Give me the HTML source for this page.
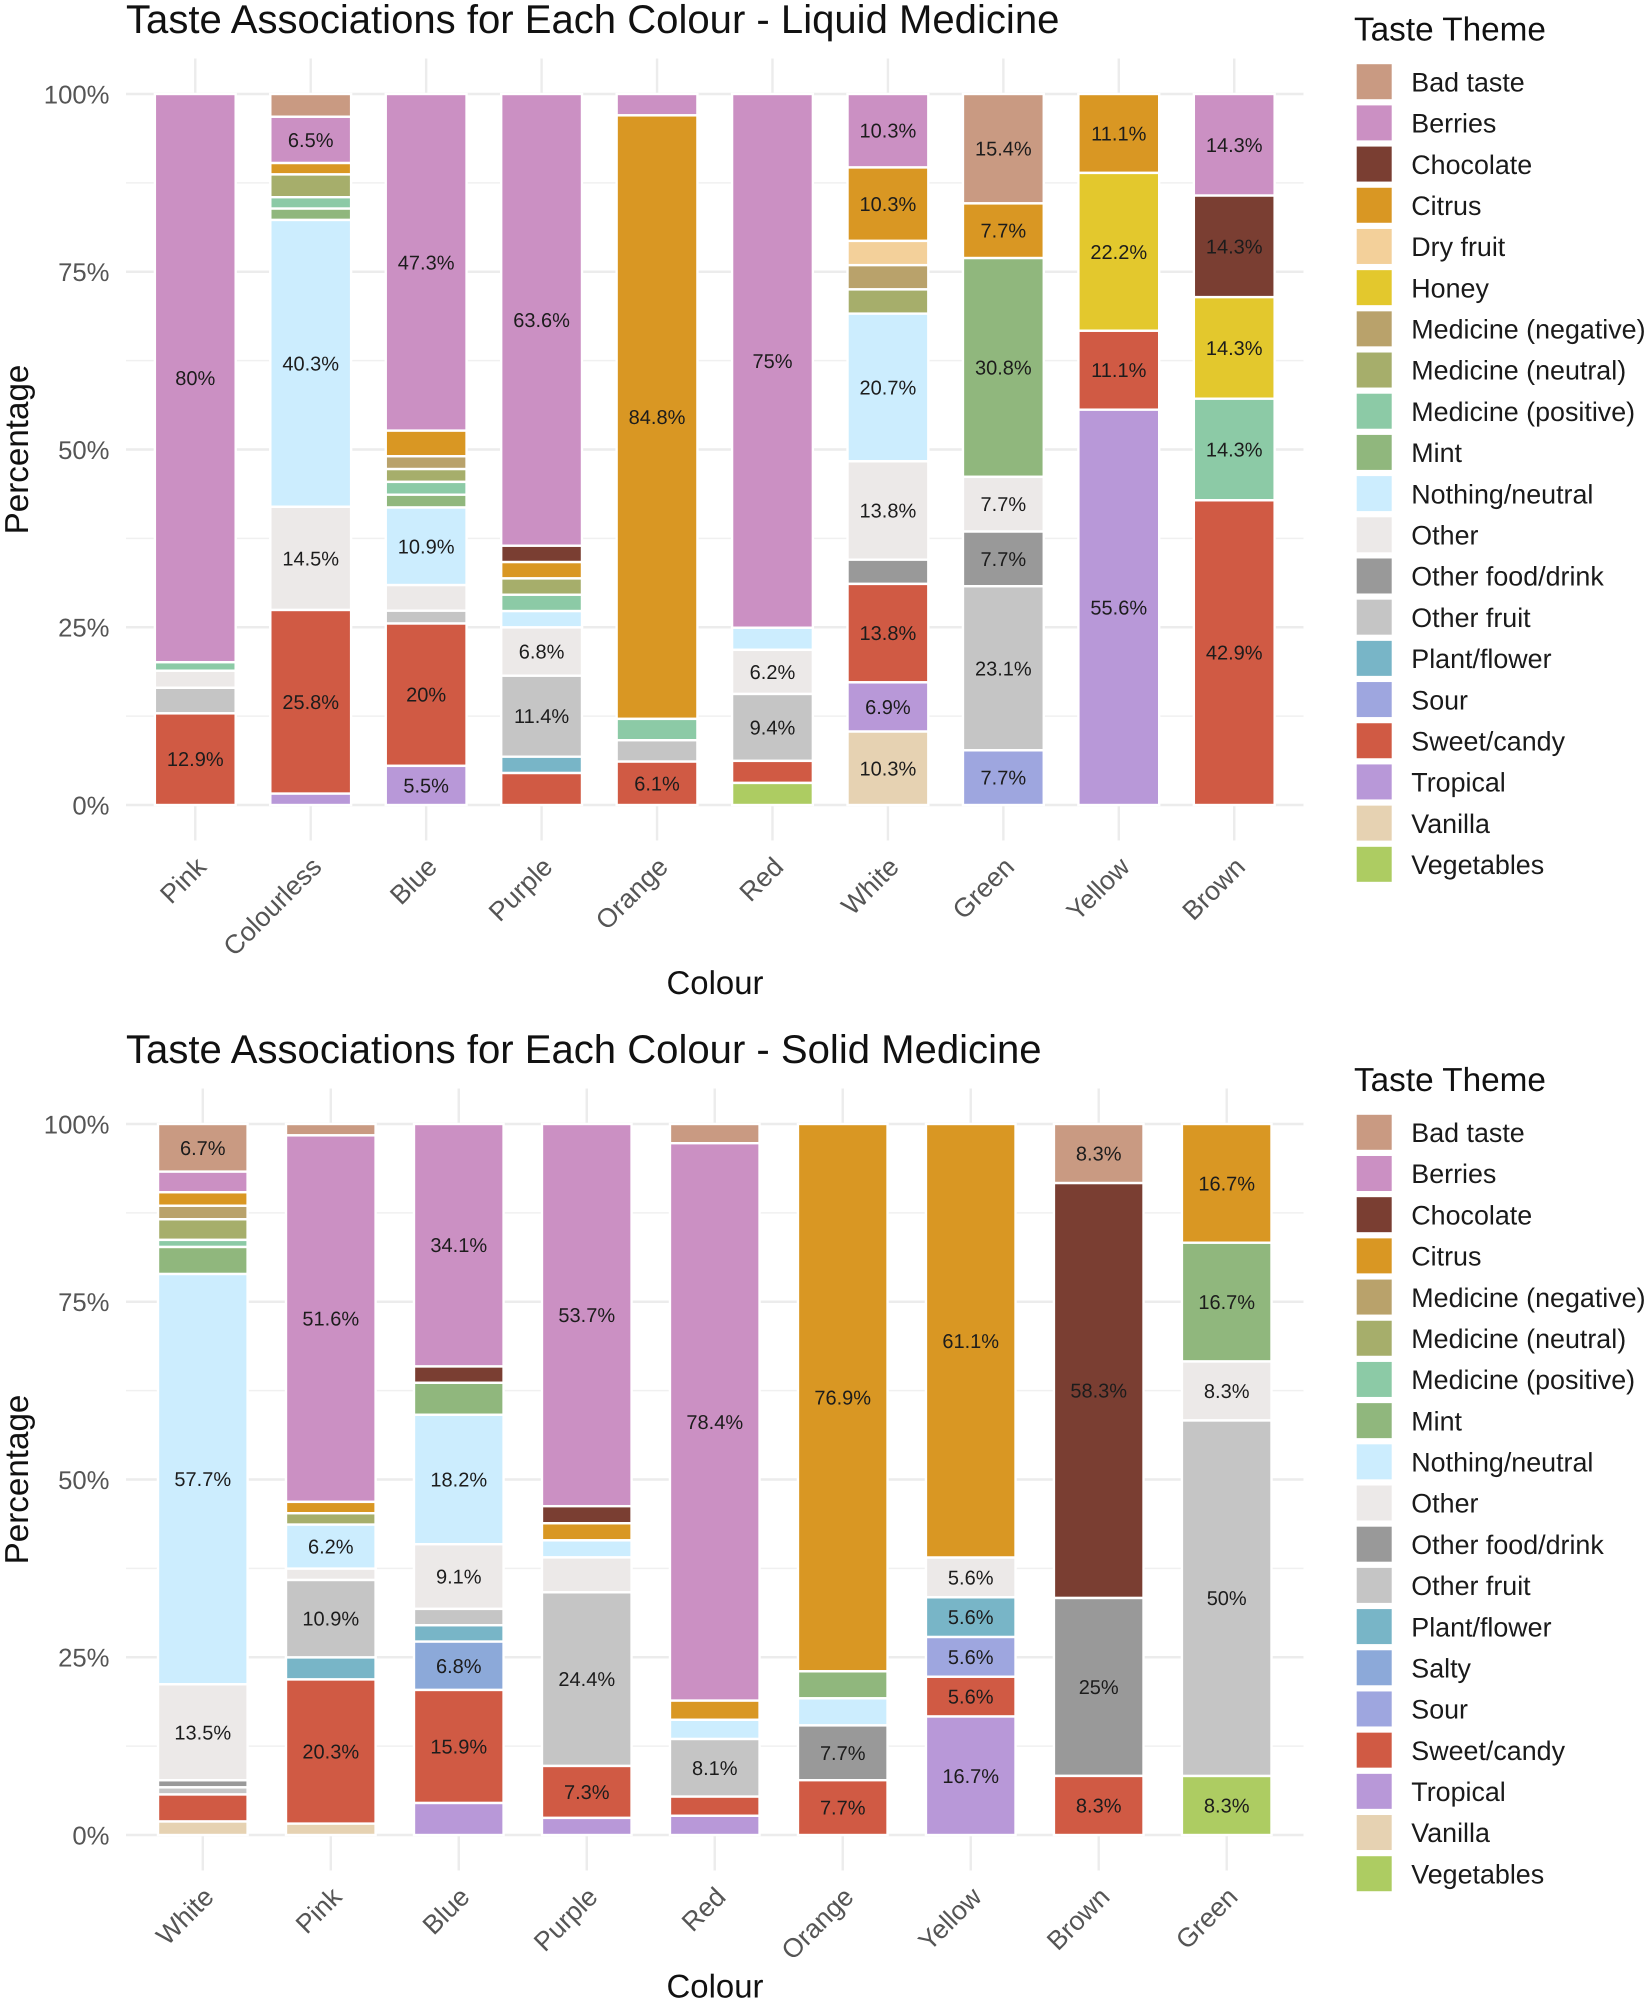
<!DOCTYPE html>
<html lang="en">
<head>
<meta charset="utf-8">
<title>Taste Associations for Each Colour</title>
<style>
  html, body { margin: 0; padding: 0; background: #ffffff; }
  svg { display: block; font-family: "Liberation Sans", Arial, sans-serif; text-rendering: geometricPrecision; filter: blur(0.35px); }
</style>
</head>
<body>
<svg id="figure" xmlns="http://www.w3.org/2000/svg" width="1647" height="2002" viewBox="0 0 1647 2002">
  <rect x="0" y="0" width="1647" height="2002" fill="#ffffff"/>
  <g id="liquid-chart">
    <text x="126" y="33" font-size="40.1" fill="#111111">Taste Associations for Each Colour - Liquid Medicine</text>
    <text transform="translate(27.8 449.5) rotate(-90)" text-anchor="middle" font-size="33.2" fill="#111111">Percentage</text>
    <text x="715" y="994" text-anchor="middle" font-size="32.9" fill="#111111">Colour</text>
    <text x="1354" y="40.4" font-size="33.3" fill="#111111">Taste Theme</text>
  </g>
  <g id="solid-chart">
    <text x="126" y="1063.2" font-size="40.1" fill="#111111">Taste Associations for Each Colour - Solid Medicine</text>
    <text transform="translate(27.8 1479.5) rotate(-90)" text-anchor="middle" font-size="33.2" fill="#111111">Percentage</text>
    <text x="715" y="1997.5" text-anchor="middle" font-size="32.9" fill="#111111">Colour</text>
    <text x="1354" y="1091" font-size="33.3" fill="#111111">Taste Theme</text>
  </g>
</svg>
<script>
// ---------- Shared axis ticks ----------
const yTickValues = [0, 25, 50, 75, 100];
const yMinorTickValues = [12.5, 37.5, 62.5, 87.5];
const yTickLabels = ['0%', '25%', '50%', '75%', '100%'];

// ---------- Liquid medicine data (percent of responses per colour) ----------
const liquidColours = ['Pink', 'Colourless', 'Blue', 'Purple', 'Orange', 'Red', 'White', 'Green', 'Yellow', 'Brown'];
const liquidThemes = ['Bad taste', 'Berries', 'Chocolate', 'Citrus', 'Dry fruit', 'Honey', 'Medicine (negative)', 'Medicine (neutral)', 'Medicine (positive)', 'Mint', 'Nothing/neutral', 'Other', 'Other food/drink', 'Other fruit', 'Plant/flower', 'Sour', 'Sweet/candy', 'Tropical', 'Vanilla', 'Vegetables'];
const liquidBadTaste   = [0, 3.2, 0, 0, 0, 0, 0, 15.4, 0, 0];
const liquidBerries    = [80, 6.5, 47.3, 63.6, 3, 75, 10.3, 0, 0, 14.3];
const liquidChocolate  = [0, 0, 0, 2.3, 0, 0, 0, 0, 0, 14.3];
const liquidCitrus     = [0, 1.6, 3.6, 2.3, 84.8, 0, 10.3, 7.7, 11.1, 0];
const liquidDryFruit   = [0, 0, 0, 0, 0, 0, 3.4, 0, 0, 0];
const liquidHoney      = [0, 0, 0, 0, 0, 0, 0, 0, 22.2, 14.3];
const liquidMedNeg     = [0, 0, 1.8, 0, 0, 0, 3.4, 0, 0, 0];
const liquidMedNeu     = [0, 3.2, 1.8, 2.3, 0, 0, 3.4, 0, 0, 0];
const liquidMedPos     = [1.2, 1.6, 1.8, 2.3, 3, 0, 0, 0, 0, 14.3];
const liquidMint       = [0, 1.6, 1.8, 0, 0, 0, 0, 30.8, 0, 0];
const liquidNothing    = [0, 40.3, 10.9, 2.3, 0, 3.1, 20.7, 0, 0, 0];
const liquidOther      = [2.4, 14.5, 3.6, 6.8, 0, 6.2, 13.8, 7.7, 0, 0];
const liquidOtherFood  = [0, 0, 0, 0, 0, 0, 3.4, 7.7, 0, 0];
const liquidOtherFruit = [3.6, 0, 1.8, 11.4, 3, 9.4, 0, 23.1, 0, 0];
const liquidPlant      = [0, 0, 0, 2.3, 0, 0, 0, 0, 0, 0];
const liquidSour       = [0, 0, 0, 0, 0, 0, 0, 7.7, 0, 0];
const liquidSweet      = [12.9, 25.8, 20, 4.5, 6.1, 3.1, 13.8, 0, 11.1, 42.9];
const liquidTropical   = [0, 1.6, 5.5, 0, 0, 0, 6.9, 0, 55.6, 0];
const liquidVanilla    = [0, 0, 0, 0, 0, 0, 10.3, 0, 0, 0];
const liquidVegetables = [0, 0, 0, 0, 0, 3.1, 0, 0, 0, 0];
const liquidSeries = [liquidBadTaste, liquidBerries, liquidChocolate, liquidCitrus, liquidDryFruit, liquidHoney, liquidMedNeg, liquidMedNeu, liquidMedPos, liquidMint, liquidNothing, liquidOther, liquidOtherFood, liquidOtherFruit, liquidPlant, liquidSour, liquidSweet, liquidTropical, liquidVanilla, liquidVegetables];

// ---------- Solid medicine data (percent of responses per colour) ----------
const solidColours = ['White', 'Pink', 'Blue', 'Purple', 'Red', 'Orange', 'Yellow', 'Brown', 'Green'];
const solidThemes = ['Bad taste', 'Berries', 'Chocolate', 'Citrus', 'Medicine (negative)', 'Medicine (neutral)', 'Medicine (positive)', 'Mint', 'Nothing/neutral', 'Other', 'Other food/drink', 'Other fruit', 'Plant/flower', 'Salty', 'Sour', 'Sweet/candy', 'Tropical', 'Vanilla', 'Vegetables'];
const solidBadTaste   = [6.7, 1.6, 0, 0, 2.7, 0, 0, 8.3, 0];
const solidBerries    = [2.9, 51.6, 34.1, 53.7, 78.4, 0, 0, 0, 0];
const solidChocolate  = [0, 0, 2.3, 2.4, 0, 0, 0, 58.3, 0];
const solidCitrus     = [1.9, 1.6, 0, 2.4, 2.7, 76.9, 61.1, 0, 16.7];
const solidMedNeg     = [1.9, 0, 0, 0, 0, 0, 0, 0, 0];
const solidMedNeu     = [2.9, 1.6, 0, 0, 0, 0, 0, 0, 0];
const solidMedPos     = [1, 0, 0, 0, 0, 0, 0, 0, 0];
const solidMint       = [3.8, 0, 4.5, 0, 0, 3.8, 0, 0, 16.7];
const solidNothing    = [57.7, 6.2, 18.2, 2.4, 2.7, 3.8, 0, 0, 0];
const solidOther      = [13.5, 1.6, 9.1, 4.9, 0, 0, 5.6, 0, 8.3];
const solidOtherFood  = [1, 0, 0, 0, 0, 7.7, 0, 25, 0];
const solidOtherFruit = [1, 10.9, 2.3, 24.4, 8.1, 0, 0, 0, 50];
const solidPlant      = [0, 3.1, 2.3, 0, 0, 0, 5.6, 0, 0];
const solidSalty      = [0, 0, 6.8, 0, 0, 0, 0, 0, 0];
const solidSour       = [0, 0, 0, 0, 0, 0, 5.6, 0, 0];
const solidSweet      = [3.8, 20.3, 15.9, 7.3, 2.7, 7.7, 5.6, 8.3, 0];
const solidTropical   = [0, 0, 4.5, 2.4, 2.7, 0, 16.7, 0, 0];
const solidVanilla    = [1.9, 1.6, 0, 0, 0, 0, 0, 0, 0];
const solidVegetables = [0, 0, 0, 0, 0, 0, 0, 0, 8.3];
const solidSeries = [solidBadTaste, solidBerries, solidChocolate, solidCitrus, solidMedNeg, solidMedNeu, solidMedPos, solidMint, solidNothing, solidOther, solidOtherFood, solidOtherFruit, solidPlant, solidSalty, solidSour, solidSweet, solidTropical, solidVanilla, solidVegetables];

// ---------- Palette ----------
const themePalette = {
  'Bad taste': '#C99A82', 'Berries': '#CB90C3', 'Chocolate': '#7A3E32', 'Citrus': '#D99723',
  'Dry fruit': '#F3D09A', 'Honey': '#E3C82D', 'Medicine (negative)': '#B9A26B',
  'Medicine (neutral)': '#A6AE6B', 'Medicine (positive)': '#8CCAA6', 'Mint': '#90B77D',
  'Nothing/neutral': '#CCEDFE', 'Other': '#ECE9E8', 'Other food/drink': '#999999',
  'Other fruit': '#C5C5C5', 'Plant/flower': '#78B5C7', 'Salty': '#8CA9D9', 'Sour': '#9EA6DF',
  'Sweet/candy': '#D05A44', 'Tropical': '#B898D8', 'Vanilla': '#E6D2B2', 'Vegetables': '#ADCC62'
};

// ---------- Drawing ----------
const SVG_NS = 'http://www.w3.org/2000/svg';
const slug = s => s.toLowerCase().replace(/[^a-z0-9]+/g, '-').replace(/^-|-$/g, '');

function make(parent, tag, attrs, text) {
  const node = document.createElementNS(SVG_NS, tag);
  for (const key in attrs) node.setAttribute(key, attrs[key]);
  if (text !== undefined) node.textContent = text;
  parent.appendChild(node);
  return node;
}

function drawChart(cfg) {
  const root = document.getElementById(cfg.rootId);
  const n = cfg.colours.length;
  const left = 126, right = 1303.5;
  const step = (right - left) / (n + 0.2);
  const xScale = i => left + step * (i + 0.6);
  const yScale = pct => cfg.y0 + (cfg.y100 - cfg.y0) * pct / 100;
  const panelTop = yScale(105), panelBottom = yScale(-5);

  // Gridlines
  yMinorTickValues.forEach(v => {
    const line = make(root, 'line', { x1: left, x2: right, y1: yScale(v), y2: yScale(v), stroke: '#F0F0F0', 'stroke-width': 1.4 });
    
    
  });
  yTickValues.forEach(v => {
    const line = make(root, 'line', { x1: left, x2: right, y1: yScale(v), y2: yScale(v), stroke: '#ECECEC', 'stroke-width': 2.6 });
    
    
  });
  cfg.colours.forEach((c, i) => {
    const line = make(root, 'line', { x1: xScale(i), x2: xScale(i), y1: panelTop, y2: panelBottom, stroke: '#ECECEC', 'stroke-width': 2.4 });
    
    
  });

  // Y tick labels
  yTickValues.forEach((v, i) => {
    const label = make(root, 'text', { x: 109.5, y: yScale(v) + 9.3, 'text-anchor': 'end', 'font-size': 25.7, fill: '#555555' }, yTickLabels[i]);
    
    
  });

  // X tick labels
  cfg.colours.forEach((c, i) => {
    const px = xScale(i) + 12.5, py = cfg.y0 + 63.5;
    const label = make(root, 'text', { transform: 'translate(' + px + ' ' + py + ') rotate(-45)', 'text-anchor': 'end', 'font-size': 26.6, fill: '#555555' }, c);
    
    
  });

  // Stacked bars (first theme on top, position-fill normalised)
  const barWidth = step * 0.7;
  cfg.colours.forEach((c, i) => {
    const total = cfg.series.reduce((sum, s) => sum + s[i], 0);
    let above = 0;
    const labels = [];
    cfg.themes.forEach((theme, t) => {
      const value = cfg.series[t][i];
      if (value <= 0) return;
      const top = 100 - above / total * 100;
      above += value;
      const bottom = 100 - above / total * 100;
      const rect = make(root, 'rect', {
        x: xScale(i) - barWidth / 2, width: barWidth,
        y: yScale(top), height: yScale(bottom) - yScale(top),
        fill: themePalette[theme], stroke: '#ffffff', 'stroke-width': 2.4
      });
      
      
      if (value >= 5) labels.push({ value: value, theme: theme, mid: (top + bottom) / 2 });
    });
    labels.forEach(item => {
      const label = make(root, 'text', { x: xScale(i), y: yScale(item.mid) + 7, 'text-anchor': 'middle', 'font-size': 20, fill: '#1c1c1c' }, parseFloat(item.value.toFixed(1)) + '%');
      
      
    });
  });

  // Legend
  cfg.themes.forEach((theme, t) => {
    const cy = cfg.legendTop + t * 41.19;
    const swatch = make(root, 'rect', { x: 1356.7, y: cy - 17.5, width: 35, height: 35, fill: themePalette[theme] });
    
    
    const label = make(root, 'text', { x: 1411.3, y: cy + 9.7, 'font-size': 26.85, fill: '#1a1a1a' }, theme);
    
    
  });
}

drawChart({ rootId: 'liquid-chart', prefix: 'liquid', colours: liquidColours, themes: liquidThemes, series: liquidSeries, y0: 805, y100: 94, legendTop: 81.7 });
drawChart({ rootId: 'solid-chart', prefix: 'solid', colours: solidColours, themes: solidThemes, series: solidSeries, y0: 1835, y100: 1124, legendTop: 1132.3 });
</script>
</body>
</html>
